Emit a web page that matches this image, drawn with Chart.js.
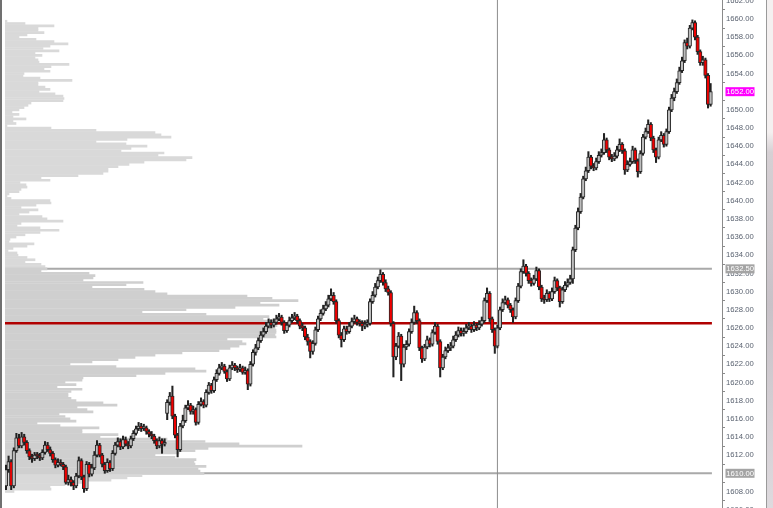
<!DOCTYPE html>
<html>
<head>
<meta charset="utf-8">
<script src="https://cdn.jsdelivr.net/npm/chart.js@4.4.1/dist/chart.umd.min.js"></script>
<style>
  html, body { margin: 0; padding: 0; background: #fff; }
  #wrap { position: relative; width: 773px; height: 508px; overflow: hidden; }
  #edge { position: absolute; left: 0; top: 0; width: 2px; height: 508px; background: #707070; }
  #side { position: absolute; left: 766px; top: 0; width: 7px; height: 508px; border-left: 1px solid #9a9a9a;
          background: linear-gradient(#f4f0f0 0%, #f4f0f0 26%, #d6d0d4 30%, #c8c2c8 60%, #dedade 100%); }
</style>
</head>
<body>
<div id="wrap">
  <canvas id="chart" width="773" height="508"></canvas>
  <div id="edge"></div>
  <div id="side"></div>
</div>
<script>
// --- candles (one per bar) ---
const opens = [
  1608.6,1610.4,1611.3,1608.6,1612.5,1613.9,1613.0,1614.0,1613.4,1612.5,
  1611.8,1611.6,1612.0,1611.9,1611.7,1612.3,1613.1,1612.6,1612.2,1611.5,
  1610.9,1611.2,1611.0,1610.7,1609.0,1609.3,1609.0,1608.6,1609.7,1611.4,
  1609.6,1608.3,1611.0,1609.9,1610.6,1612.0,1613.1,1612.0,1611.0,1610.3,
  1611.2,1610.5,1612.2,1613.1,1613.5,1612.9,1613.7,1613.2,1613.0,1613.8,
  1614.4,1614.9,1615.2,1614.9,1615.0,1614.6,1614.3,1614.1,1613.6,1613.0,
  1613.6,1613.2,1616.6,1617.8,1618.5,1616.3,1614.2,1612.6,1615.2,1615.8,
  1617.2,1617.5,1616.8,1617.0,1615.6,1617.6,1617.9,1617.5,1618.9,1619.7,
  1619.1,1620.3,1621.0,1621.6,1621.8,1621.2,1620.4,1621.6,1621.9,1621.6,
  1621.4,1621.6,1621.1,1621.3,1619.8,1622.0,1623.3,1623.8,1624.6,1625.2,
  1625.6,1626.2,1626.6,1626.3,1626.6,1627.0,1627.2,1626.6,1625.7,1626.3,
  1626.8,1627.1,1627.3,1626.8,1626.2,1626.0,1625.0,1624.5,1623.4,1624.3,
  1625.8,1627.0,1627.6,1628.1,1628.5,1629.2,1629.6,1628.9,1626.8,1625.2,
  1624.7,1625.9,1625.6,1626.2,1626.7,1627.0,1626.6,1626.5,1626.2,1626.4,
  1626.5,1628.9,1629.6,1630.5,1631.2,1631.9,1631.0,1630.3,1629.9,1626.5,
  1622.8,1624.0,1625.1,1622.0,1623.9,1624.2,1625.6,1626.6,1627.7,1626.8,
  1623.8,1622.6,1623.9,1624.7,1624.2,1625.5,1626.2,1624.5,1621.6,1622.8,
  1623.5,1623.8,1624.0,1624.7,1625.2,1625.7,1625.4,1625.6,1626.0,1626.2,
  1625.8,1626.3,1626.0,1626.4,1626.8,1629.0,1629.8,1627.0,1625.8,1624.0,
  1626.0,1628.0,1628.8,1629.1,1628.5,1628.0,1627.2,1629.0,1630.6,1632.2,
  1632.8,1632.0,1631.2,1630.9,1631.4,1632.3,1630.5,1629.2,1629.1,1629.8,
  1629.2,1630.0,1631.2,1630.4,1628.9,1630.2,1630.7,1631.0,1631.4,1634.6,
  1637.0,1638.8,1640.4,1642.4,1643.3,1644.8,1643.8,1643.6,1644.3,1645.0,
  1645.3,1646.7,1645.6,1644.8,1644.6,1644.9,1645.6,1646.2,1645.5,1643.4,
  1644.0,1644.3,1645.6,1644.4,1643.2,1645.2,1647.0,1647.6,1648.4,1646.9,
  1645.6,1644.8,1646.7,1647.2,1646.2,1647.6,1650.0,1651.3,1652.0,1653.0,
  1654.3,1655.4,1657.4,1657.0,1659.0,1659.6,1658.0,1656.4,1655.2,1655.5,
  1653.8,1650.6
];
const highs = [
  1610.9,1611.9,1611.5,1612.8,1614.4,1614.3,1614.5,1614.3,1613.6,1612.7,
  1612.1,1612.3,1612.3,1612.2,1612.6,1613.5,1613.4,1612.9,1612.4,1611.7,
  1611.6,1611.5,1611.2,1610.9,1609.8,1609.6,1609.2,1610.0,1611.8,1611.6,
  1609.8,1611.3,1611.2,1611.0,1612.4,1613.6,1613.3,1612.2,1611.2,1611.6,
  1611.4,1612.5,1613.4,1613.9,1613.8,1614.1,1614.0,1613.5,1614.1,1614.7,
  1615.2,1615.6,1615.5,1615.4,1615.2,1614.8,1614.6,1614.3,1613.8,1614.0,
  1613.8,1613.8,1618.1,1618.9,1619.6,1616.5,1614.4,1615.5,1616.4,1617.5,
  1618.0,1617.7,1617.4,1617.2,1617.9,1618.3,1618.1,1619.2,1620.0,1619.9,
  1620.6,1621.4,1622.0,1622.2,1622.0,1621.4,1621.9,1622.3,1622.1,1621.8,
  1622.0,1621.8,1621.7,1621.5,1622.3,1623.6,1624.2,1624.9,1625.6,1626.0,
  1626.6,1627.0,1626.9,1627.0,1627.4,1627.6,1627.4,1626.8,1626.6,1627.2,
  1627.5,1627.7,1627.5,1627.0,1626.5,1626.2,1625.3,1624.7,1624.6,1626.1,
  1627.3,1628.0,1628.5,1628.9,1629.6,1630.3,1629.9,1629.1,1627.0,1625.5,
  1626.2,1626.2,1626.6,1627.1,1627.4,1627.2,1626.9,1626.8,1626.8,1626.9,
  1629.2,1630.0,1630.9,1631.6,1632.4,1632.1,1631.3,1630.6,1630.1,1626.7,
  1624.3,1625.5,1625.3,1624.2,1624.6,1625.9,1627.0,1628.4,1627.9,1627.0,
  1624.0,1624.2,1625.1,1624.9,1625.8,1626.6,1626.4,1624.7,1623.1,1623.9,
  1624.2,1624.4,1625.1,1625.6,1626.1,1626.0,1626.0,1626.4,1626.6,1626.4,
  1626.7,1626.5,1626.8,1627.2,1629.3,1630.4,1630.0,1627.2,1626.0,1626.3,
  1628.3,1629.2,1629.5,1629.3,1628.7,1628.2,1629.3,1630.9,1632.5,1633.5,
  1633.0,1632.2,1631.5,1631.8,1632.7,1632.5,1630.7,1629.6,1630.2,1630.0,
  1630.4,1631.6,1631.4,1630.6,1630.5,1631.1,1631.4,1631.8,1634.9,1637.3,
  1639.2,1640.8,1642.7,1643.7,1645.4,1645.0,1644.1,1644.7,1645.4,1645.7,
  1647.4,1646.9,1645.8,1645.1,1645.3,1646.0,1646.8,1646.4,1645.7,1644.4,
  1644.7,1646.0,1645.8,1644.6,1645.5,1647.3,1648.0,1648.9,1648.6,1647.1,
  1645.8,1647.0,1647.6,1647.4,1647.9,1650.3,1651.7,1652.4,1653.4,1654.7,
  1655.8,1657.7,1657.9,1659.3,1659.9,1659.8,1658.2,1656.6,1655.9,1655.7,
  1654.0,1652.9
];
const lows = [
  1608.2,1610.1,1608.2,1608.4,1612.3,1612.8,1612.8,1613.1,1612.2,1611.5,
  1611.2,1611.4,1611.6,1611.4,1611.5,1612.1,1612.4,1611.9,1611.2,1610.6,
  1610.7,1610.8,1610.4,1608.8,1608.7,1608.6,1608.2,1608.4,1609.5,1609.3,
  1607.9,1608.1,1609.6,1609.7,1610.4,1611.8,1611.8,1610.7,1610.0,1610.1,
  1610.2,1610.3,1612.0,1612.9,1612.6,1612.7,1613.0,1612.7,1612.8,1613.6,
  1614.2,1614.7,1614.6,1614.7,1614.3,1614.0,1613.8,1613.3,1612.7,1612.8,
  1612.2,1613.0,1615.9,1617.5,1616.0,1613.9,1611.8,1612.4,1615.0,1615.6,
  1617.0,1616.5,1616.5,1615.3,1615.4,1617.4,1617.2,1617.3,1618.7,1618.8,
  1618.9,1620.1,1620.8,1621.4,1621.0,1620.1,1620.2,1621.4,1621.3,1621.1,
  1621.2,1620.9,1620.9,1619.2,1619.6,1621.8,1623.0,1623.6,1624.4,1625.0,
  1625.4,1626.0,1626.0,1626.1,1626.4,1626.8,1626.3,1625.4,1625.5,1626.1,
  1626.6,1626.9,1626.5,1625.9,1625.7,1624.7,1624.1,1622.7,1623.1,1624.1,
  1625.6,1626.8,1627.4,1627.9,1628.3,1629.0,1628.6,1626.5,1624.9,1623.9,
  1624.5,1625.3,1625.4,1626.0,1626.5,1626.3,1626.2,1625.7,1625.9,1626.1,
  1626.3,1628.7,1629.4,1630.3,1631.0,1630.7,1630.0,1629.6,1626.2,1620.6,
  1622.5,1623.8,1620.2,1621.7,1623.6,1624.0,1625.4,1626.4,1626.5,1623.5,
  1622.2,1622.4,1623.7,1623.9,1624.0,1625.3,1624.2,1620.6,1621.4,1622.6,
  1623.3,1623.5,1623.8,1624.5,1625.0,1625.1,1625.1,1625.4,1625.8,1625.5,
  1625.6,1625.7,1625.8,1626.2,1626.6,1628.8,1626.7,1625.5,1623.2,1623.8,
  1625.8,1627.8,1628.6,1628.2,1627.7,1626.6,1627.0,1628.8,1630.4,1632.0,
  1631.7,1630.9,1630.6,1630.7,1631.2,1630.2,1628.9,1628.7,1628.9,1628.9,
  1629.0,1629.8,1630.1,1628.3,1628.7,1630.0,1630.5,1630.8,1630.9,1634.4,
  1636.8,1638.6,1640.2,1642.2,1643.1,1643.5,1643.3,1643.4,1644.1,1644.8,
  1645.1,1645.3,1644.5,1644.3,1644.4,1644.7,1645.4,1645.2,1642.9,1643.2,
  1643.8,1644.1,1644.1,1642.6,1643.0,1645.0,1646.8,1647.4,1646.6,1645.3,
  1644.2,1644.6,1646.5,1645.9,1646.0,1647.4,1649.8,1651.0,1651.8,1652.8,
  1654.1,1655.2,1656.7,1656.8,1658.8,1657.7,1656.1,1654.9,1654.9,1653.5,
  1650.2,1650.4
];
const closes = [
  1610.4,1611.3,1608.6,1612.5,1613.9,1613.0,1614.0,1613.4,1612.5,1611.8,
  1611.6,1612.0,1611.9,1611.7,1612.3,1613.1,1612.6,1612.2,1611.5,1610.9,
  1611.2,1611.0,1610.7,1609.0,1609.3,1609.0,1608.6,1609.7,1611.4,1609.6,
  1608.3,1611.0,1609.9,1610.6,1612.0,1613.1,1612.0,1611.0,1610.3,1611.2,
  1610.5,1612.2,1613.1,1613.5,1612.9,1613.7,1613.2,1613.0,1613.8,1614.4,
  1614.9,1615.2,1614.9,1615.0,1614.6,1614.3,1614.1,1613.6,1613.0,1613.6,
  1613.2,1613.4,1617.8,1618.5,1616.3,1614.2,1612.6,1615.2,1615.8,1617.2,
  1617.5,1616.8,1617.0,1615.6,1617.6,1617.9,1617.5,1618.9,1619.7,1619.1,
  1620.3,1621.0,1621.6,1621.8,1621.2,1620.4,1621.6,1621.9,1621.6,1621.4,
  1621.6,1621.1,1621.3,1619.8,1622.0,1623.3,1623.8,1624.6,1625.2,1625.6,
  1626.2,1626.6,1626.3,1626.6,1627.0,1627.2,1626.6,1625.7,1626.3,1626.8,
  1627.1,1627.3,1626.8,1626.2,1626.0,1625.0,1624.5,1623.4,1624.3,1625.8,
  1627.0,1627.6,1628.1,1628.5,1629.2,1629.6,1628.9,1626.8,1625.2,1624.7,
  1625.9,1625.6,1626.2,1626.7,1627.0,1626.6,1626.5,1626.2,1626.4,1626.5,
  1628.9,1629.6,1630.5,1631.2,1631.9,1631.0,1630.3,1629.9,1626.5,1622.8,
  1624.0,1625.1,1622.0,1623.9,1624.2,1625.6,1626.6,1627.7,1626.8,1623.8,
  1622.6,1623.9,1624.7,1624.2,1625.5,1626.2,1624.5,1621.6,1622.8,1623.5,
  1623.8,1624.0,1624.7,1625.2,1625.7,1625.4,1625.6,1626.0,1626.2,1625.8,
  1626.3,1626.0,1626.4,1626.8,1629.0,1629.8,1627.0,1625.8,1624.0,1626.0,
  1628.0,1628.8,1629.1,1628.5,1628.0,1627.2,1629.0,1630.6,1632.2,1632.8,
  1632.0,1631.2,1630.9,1631.4,1632.3,1630.5,1629.2,1629.1,1629.8,1629.2,
  1630.0,1631.2,1630.4,1628.9,1630.2,1630.7,1631.0,1631.4,1634.6,1637.0,
  1638.8,1640.4,1642.4,1643.3,1644.8,1643.8,1643.6,1644.3,1645.0,1645.3,
  1646.7,1645.6,1644.8,1644.6,1644.9,1645.6,1646.2,1645.5,1643.4,1644.0,
  1644.3,1645.6,1644.4,1643.2,1645.2,1647.0,1647.6,1648.4,1646.9,1645.6,
  1644.8,1646.7,1647.2,1646.2,1647.6,1650.0,1651.3,1652.0,1653.0,1654.3,
  1655.4,1657.4,1657.0,1659.0,1659.6,1658.0,1656.4,1655.2,1655.5,1653.8,
  1650.6,1652.0
];

// --- volume profile, one value per tick from the top level down ---
const profileTop = 1659.75;
const tickSize = 0.25;
const profileVolume = [
  2,20,49,33,33,39,22,14,31,49,
  63,45,38,54,30,37,30,33,34,64,
  46,39,45,19,18,35,67,33,33,40,
  45,34,50,58,59,58,26,23,19,14,
  7,14,8,21,8,11,2,46,91,150,
  156,166,122,91,121,142,126,116,159,153,
  187,181,139,124,113,103,103,98,73,36,
  45,15,21,22,16,14,4,2,6,45,
  46,31,16,33,24,14,37,42,58,16,
  12,35,54,35,20,11,5,4,29,22,
  8,3,12,13,22,30,20,36,40,42,
  36,84,90,88,78,138,121,87,139,150,
  162,242,267,293,255,274,230,181,137,201,
  264,258,268,300,272,270,271,271,270,271,
  222,237,241,234,225,214,177,150,130,113,
  87,65,111,190,201,160,131,78,77,60,
  71,52,77,66,63,63,66,71,98,112,
  72,82,88,54,60,65,71,32,55,94,
  77,77,113,95,162,200,234,297,203,190,
  174,150,170,191,189,190,201,193,195,199,
  137,122,106,80,60,45,46,9
];

// --- levels and axis ---
const valueAreaHigh = 1632.5;
const valueAreaLow = 1610.0;
const pocPrice = 1626.5;
const lastPrice = 1652.0;
const sessionBreak = 189;
const yTicks = [1606,1608,1610,1612,1614,1616,1618,1620,1622,1624,1626,1628,1630,1632,1634,
                1636,1638,1640,1642,1644,1646,1648,1650,1652,1654,1656,1658,1660,1662];

const X_MIN = -0.385, X_MAX = 275.38;
const Y_MIN = 1606.18, Y_MAX = 1662.09;
const lineEnd = closes.length - 0.5;

const wickData = closes.map((c, i) => ({ x: i, y: [lows[i], highs[i]] }));
const bodyData = closes.map((c, i) => ({ x: i, y: [opens[i], c] }));
const bodyColors = closes.map((c, i) => c < opens[i] ? '#f00000' : '#bdbdbd');

const profileData = profileVolume.map((v, k) => ({ x: v, y: profileTop - k * tickSize }));
const profileColors = profileData.map(p =>
  (p.y <= valueAreaHigh && p.y >= valueAreaLow) ? '#cfcfcf' : '#d9d9d9');

function hLine(price, color, width, order) {
  return {
    type: 'line',
    data: [{ x: X_MIN, y: price }, { x: lineEnd, y: price }],
    borderColor: color,
    borderWidth: width,
    pointRadius: 0,
    xAxisID: 'x',
    yAxisID: 'y',
    order: order
  };
}

// coloured price boxes sitting on the axis
const priceTags = {
  id: 'priceTags',
  afterDraw(chart) {
    const ctx = chart.ctx;
    const y = chart.scales.y;
    const tags = [[lastPrice, '#ff00ff'], [valueAreaHigh, '#a4a4a4'], [valueAreaLow, '#a4a4a4']];
    ctx.save();
    ctx.font = '7.7px "Liberation Sans", Arial, sans-serif';
    ctx.textBaseline = 'middle';
    tags.forEach(function(t) {
      const py = y.getPixelForValue(t[0]);
      const left = y.left + 3.5;
      ctx.fillStyle = t[1];
      ctx.fillRect(left, py - 4.5, 29, 9);
      ctx.fillStyle = '#ffffff';
      ctx.fillText(t[0].toFixed(2), left + 0.8, py + 0.5);
    });
    ctx.restore();
  }
};

new Chart(document.getElementById('chart'), {
  type: 'bar',
  data: {
    datasets: [
      hLine(valueAreaHigh, '#a9a9a9', 2, 8),
      hLine(valueAreaLow, '#a9a9a9', 2, 8),
      {
        label: 'Profile',
        data: profileData,
        indexAxis: 'y',
        xAxisID: 'xv',
        yAxisID: 'y',
        backgroundColor: profileColors,
        barThickness: 2.05,
        grouped: false,
        order: 7
      },
      hLine(pocPrice, '#b00000', 2.5, 6),
      {
        type: 'line',
        data: [{ x: sessionBreak, y: Y_MIN }, { x: sessionBreak, y: Y_MAX }],
        borderColor: '#8c8c8c',
        borderWidth: 1,
        pointRadius: 0,
        xAxisID: 'x',
        yAxisID: 'y',
        order: 5
      },
      {
        label: 'Wicks',
        data: wickData,
        xAxisID: 'x',
        yAxisID: 'y',
        backgroundColor: '#222222',
        barThickness: 1.4,
        grouped: false,
        order: 4
      },
      {
        label: 'Bodies',
        data: bodyData,
        xAxisID: 'x',
        yAxisID: 'y',
        backgroundColor: bodyColors,
        borderColor: '#262626',
        borderWidth: 1,
        borderSkipped: false,
        barThickness: 3.5,
        minBarLength: 2,
        grouped: false,
        order: 3
      }
    ]
  },
  options: {
    responsive: false,
    animation: false,
    events: [],
    layout: { padding: { left: 5, top: 0, right: 0, bottom: 0 } },
    plugins: {
      legend: { display: false },
      tooltip: { enabled: false }
    },
    scales: {
      x: { type: 'linear', display: false, min: X_MIN, max: X_MAX, offset: false },
      xv: { type: 'linear', display: false, min: 0, max: 717, offset: false },
      y: {
        type: 'linear',
        position: 'right',
        min: Y_MIN,
        max: Y_MAX,
        bounds: 'data',
        offset: false,
        afterBuildTicks: function(s) { s.ticks = yTicks.map(v => ({ value: v })); },
        afterFit: function(s) { s.width = 51; s.paddingTop = 0; s.paddingBottom = 0; },
        ticks: {
          autoSkip: false,
          padding: 1,
          color: '#5a6270',
          font: { family: '"Liberation Sans", Arial, sans-serif', size: 7.7 },
          callback: v => v.toFixed(2)
        },
        grid: { drawOnChartArea: false, tickLength: 3, color: '#8a8a8a' },
        border: { color: '#8a8a8a', width: 1 }
      }
    }
  },
  plugins: [priceTags]
});
</script>
</body>
</html>
